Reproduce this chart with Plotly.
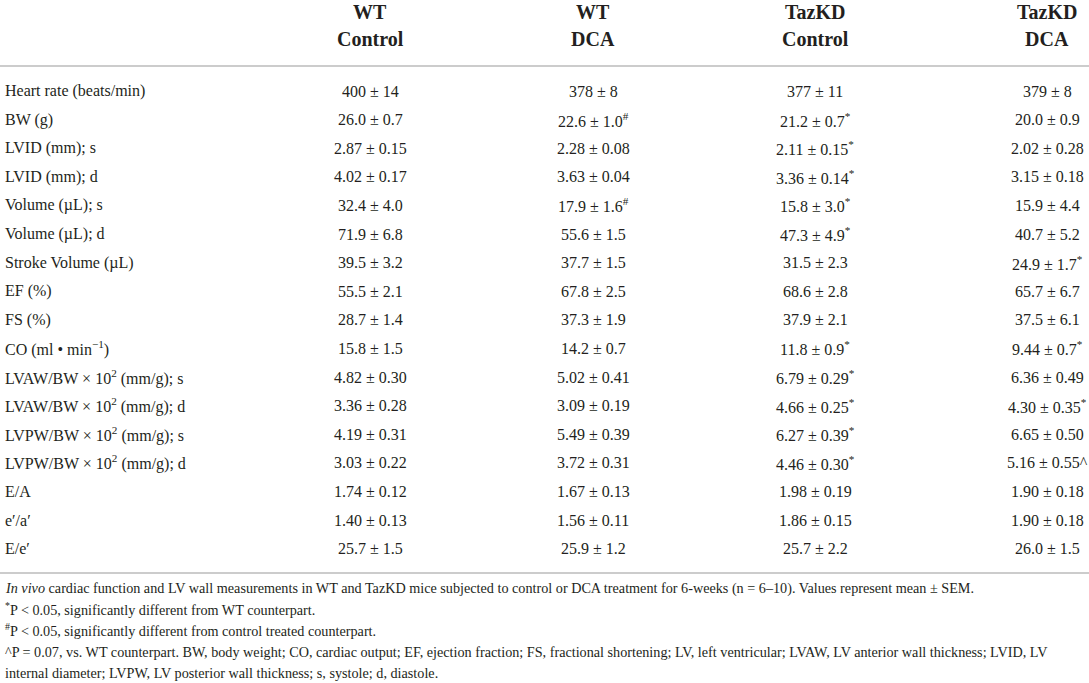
import plotly.graph_objects as go

# ---------------- data ----------------
row_labels = [
    "Heart rate (beats/min)",
    "BW (g)",
    "LVID (mm); s",
    "LVID (mm); d",
    "Volume (µL); s",
    "Volume (µL); d",
    "Stroke Volume (µL)",
    "EF (%)",
    "FS (%)",
    "CO (ml • min<sup>−1</sup>)",
    "LVAW/BW × 10<sup>2</sup> (mm/g); s",
    "LVAW/BW × 10<sup>2</sup> (mm/g); d",
    "LVPW/BW × 10<sup>2</sup> (mm/g); s",
    "LVPW/BW × 10<sup>2</sup> (mm/g); d",
    "E/A",
    "e′/a′",
    "E/e′",
]

group_top = ["WT", "WT", "TazKD", "TazKD"]
group_bottom = ["Control", "DCA", "Control", "DCA"]

wt_control_mean = ["400", "26.0", "2.87", "4.02", "32.4", "71.9", "39.5", "55.5", "28.7",
                   "15.8", "4.82", "3.36", "4.19", "3.03", "1.74", "1.40", "25.7"]
wt_control_sem = ["14", "0.7", "0.15", "0.17", "4.0", "6.8", "3.2", "2.1", "1.4",
                  "1.5", "0.30", "0.28", "0.31", "0.22", "0.12", "0.13", "1.5"]
wt_control_mark = [""] * 17

wt_dca_mean = ["378", "22.6", "2.28", "3.63", "17.9", "55.6", "37.7", "67.8", "37.3",
               "14.2", "5.02", "3.09", "5.49", "3.72", "1.67", "1.56", "25.9"]
wt_dca_sem = ["8", "1.0", "0.08", "0.04", "1.6", "1.5", "1.5", "2.5", "1.9",
              "0.7", "0.41", "0.19", "0.39", "0.31", "0.13", "0.11", "1.2"]
wt_dca_mark = ["", "#", "", "", "#", "", "", "", "",
               "", "", "", "", "", "", "", ""]

taz_control_mean = ["377", "21.2", "2.11", "3.36", "15.8", "47.3", "31.5", "68.6", "37.9",
                    "11.8", "6.79", "4.66", "6.27", "4.46", "1.98", "1.86", "25.7"]
taz_control_sem = ["11", "0.7", "0.15", "0.14", "3.0", "4.9", "2.3", "2.8", "2.1",
                   "0.9", "0.29", "0.25", "0.39", "0.30", "0.19", "0.15", "2.2"]
taz_control_mark = ["", "*", "*", "*", "*", "*", "", "", "",
                    "*", "*", "*", "*", "*", "", "", ""]

taz_dca_mean = ["379", "20.0", "2.02", "3.15", "15.9", "40.7", "24.9", "65.7", "37.5",
                "9.44", "6.36", "4.30", "6.65", "5.16", "1.90", "1.90", "26.0"]
taz_dca_sem = ["8", "0.9", "0.28", "0.18", "4.4", "5.2", "1.7", "6.7", "6.1",
               "0.7", "0.49", "0.35", "0.50", "0.55", "0.18", "0.18", "1.5"]
taz_dca_mark = ["", "", "", "", "", "", "*", "", "",
                "*", "", "*", "", "^", "", "", ""]

footnotes = [
    "<i>In vivo</i> cardiac function and LV wall measurements in WT and TazKD mice subjected to control or DCA treatment for 6-weeks (n = 6–10). Values represent mean ± SEM.",
    "<sup>*</sup>P < 0.05, significantly different from WT counterpart.",
    "<sup>#</sup>P < 0.05, significantly different from control treated counterpart.",
    "^P = 0.07, vs. WT counterpart. BW, body weight; CO, cardiac output; EF, ejection fraction; FS, fractional shortening; LV, left ventricular; LVAW, LV anterior wall thickness; LVID, LV",
    "internal diameter; LVPW, LV posterior wall thickness; s, systole; d, diastole.",
]

# ---------------- layout constants ----------------
W, H = 1089, 683
FONT = "Liberation Serif"
TXT = "#231f20"
col_x = [370, 593, 815, 1047]
label_x = 3
row_y0, row_dy = 91, 28.6
head_y = [12, 39]
rule_y = [66, 573]
foot_y0, foot_dy = 588, 21.2

columns = [
    (wt_control_mean, wt_control_sem, wt_control_mark),
    (wt_dca_mean, wt_dca_sem, wt_dca_mark),
    (taz_control_mean, taz_control_sem, taz_control_mark),
    (taz_dca_mean, taz_dca_sem, taz_dca_mark),
]


def fmt(m, s, k):
    if k in ("*", "#"):
        k = "<sup>" + k + "</sup>"
    return f"{m} ± {s}{k}"


fig = go.Figure()
ann = []

# headers
for i, x in enumerate(col_x):
    for txt, y in zip((group_top[i], group_bottom[i]), head_y):
        ann.append(dict(x=x, y=y, xref="x", yref="y", text=f"<b>{txt}</b>",
                        showarrow=False, xanchor="center", yanchor="middle",
                        font=dict(family=FONT, size=20, color=TXT)))

# row labels
for r, lab in enumerate(row_labels):
    ann.append(dict(x=label_x, y=row_y0 + r * row_dy, xref="x", yref="y", text=lab,
                    showarrow=False, xanchor="left", yanchor="middle",
                    font=dict(family=FONT, size=16, color=TXT)))

# cells
for c, (means, sems, marks) in enumerate(columns):
    for r in range(len(row_labels)):
        ann.append(dict(x=col_x[c], y=row_y0 + r * row_dy, xref="x", yref="y",
                        text=fmt(means[r], sems[r], marks[r]),
                        showarrow=False, xanchor="center", yanchor="middle",
                        font=dict(family=FONT, size=16, color=TXT)))

# footnotes
for i, t in enumerate(footnotes):
    ann.append(dict(x=label_x, y=foot_y0 + i * foot_dy, xref="x", yref="y", text=t,
                    showarrow=False, xanchor="left", yanchor="middle",
                    font=dict(family=FONT, size=14.2, color=TXT)))

shapes = [dict(type="line", xref="x", yref="y", x0=0, x1=W, y0=y, y1=y,
               line=dict(color="#cccccc", width=2)) for y in rule_y]

fig.update_layout(
    width=W, height=H,
    margin=dict(l=0, r=0, t=0, b=0),
    paper_bgcolor="white", plot_bgcolor="white",
    xaxis=dict(range=[0, W], visible=False, fixedrange=True),
    yaxis=dict(range=[H, 0], visible=False, fixedrange=True),
    annotations=ann, shapes=shapes, showlegend=False,
)

fig.write_html(
    "out.html",
    config={"displayModeBar": False},
    post_script="document.body.style.margin='0';document.body.style.overflow='hidden';",
)
